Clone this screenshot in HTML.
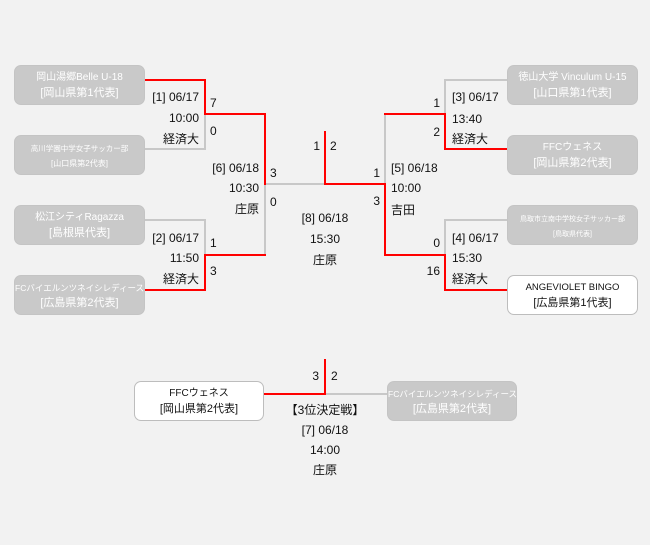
<!DOCTYPE html>
<html><head><meta charset="utf-8">
<style>
html,body{margin:0;padding:0;}
body{width:650px;height:545px;background:#f2f2f2;position:relative;overflow:hidden;font-family:"Liberation Sans","Noto Sans CJK JP",sans-serif;color:#111;}
svg{position:absolute;left:0;top:0;}
.t{position:absolute;font-size:12px;line-height:14px;white-space:nowrap;}
.r{text-align:right;}
.c{text-align:center;}
.box{position:absolute;width:131px;height:40px;border-radius:7px;box-sizing:border-box;}
.g{background:#c9c9c9;border:1px solid #c4c4c4;color:#fff;}
.w{background:#fff;border:1px solid #bdbdbd;color:#111;}
.bl{position:absolute;left:0;width:100%;text-align:center;white-space:nowrap;}
</style></head><body>
<svg width="650" height="545" viewBox="0 0 650 545">
<g fill="none" stroke-width="2" stroke-linecap="square">
<!-- gray lines -->
<g stroke="#c8c8c8">
<path d="M145,149 H205 V114"/>
<path d="M145,220 H205 V255"/>
<path d="M265,184 V255"/>
<path d="M265,184 H325"/>
<path d="M507,80 H445 V114"/>
<path d="M507,220 H445 V255"/>
<path d="M385,114 V184"/>
<path d="M325,394 H387"/>
</g>
<g stroke="#ff0000">
<path d="M145,80 H205 V114 H265 V184"/>
<path d="M145,290 H205 V255 H265"/>
<path d="M325,132 V184 H385 V255 H445 V290 H507"/>
<path d="M507,149 H445 V114 H385"/>
<path d="M264,394 H325 V360"/>
</g>
</g>
</svg>

<!-- Left boxes -->
<div class="box g" style="left:14px;top:65px;">
<div class="bl" style="top:5px;font-size:10px;line-height:14px;">岡山湯郷Belle U-18</div>
<div class="bl" style="top:20px;font-size:11px;line-height:14px;">[岡山県第1代表]</div>
</div>
<div class="box g" style="left:14px;top:135px;">
<div class="bl" style="top:8px;font-size:7.5px;line-height:10px;">高川学園中学女子サッカー部</div>
<div class="bl" style="top:23px;font-size:8px;line-height:10px;">[山口県第2代表]</div>
</div>
<div class="box g" style="left:14px;top:205px;">
<div class="bl" style="top:5px;font-size:10px;line-height:14px;">松江シティRagazza</div>
<div class="bl" style="top:20px;font-size:11px;line-height:14px;">[島根県代表]</div>
</div>
<div class="box g" style="left:14px;top:275px;">
<div class="bl" style="top:6px;font-size:8.5px;line-height:12px;">FCバイエルンツネイシレディース</div>
<div class="bl" style="top:20px;font-size:11px;line-height:14px;">[広島県第2代表]</div>
</div>

<!-- Right boxes -->
<div class="box g" style="left:507px;top:65px;">
<div class="bl" style="top:5px;font-size:10px;line-height:14px;">徳山大学 Vinculum U-15</div>
<div class="bl" style="top:20px;font-size:11px;line-height:14px;">[山口県第1代表]</div>
</div>
<div class="box g" style="left:507px;top:135px;">
<div class="bl" style="top:5px;font-size:10px;line-height:14px;">FFCウェネス</div>
<div class="bl" style="top:20px;font-size:11px;line-height:14px;">[岡山県第2代表]</div>
</div>
<div class="box g" style="left:507px;top:205px;">
<div class="bl" style="top:9px;font-size:7px;line-height:9px;">鳥取市立南中学校女子サッカー部</div>
<div class="bl" style="top:24px;font-size:7px;line-height:9px;">[鳥取県代表]</div>
</div>
<div class="box w" style="left:507px;top:275px;">
<div class="bl" style="top:5px;font-size:9.5px;line-height:14px;">ANGEVIOLET BINGO</div>
<div class="bl" style="top:20px;font-size:11px;line-height:14px;">[広島県第1代表]</div>
</div>

<!-- Third place boxes -->
<div class="box w" style="left:134px;top:381px;width:130px;">
<div class="bl" style="top:5px;font-size:10px;line-height:14px;">FFCウェネス</div>
<div class="bl" style="top:20px;font-size:11px;line-height:14px;">[岡山県第2代表]</div>
</div>
<div class="box g" style="left:387px;top:381px;width:130px;">
<div class="bl" style="top:6px;font-size:8.5px;line-height:12px;">FCバイエルンツネイシレディース</div>
<div class="bl" style="top:20px;font-size:11px;line-height:14px;">[広島県第2代表]</div>
</div>

<!-- Match 1 -->
<div class="t r" style="right:451px;top:90px;">[1] 06/17</div>
<div class="t r" style="right:451px;top:111px;">10:00</div>
<div class="t r" style="right:451px;top:132px;">経済大</div>
<div class="t" style="left:210px;top:96px;">7</div>
<div class="t" style="left:210px;top:124px;">0</div>

<!-- Match 2 -->
<div class="t r" style="right:451px;top:231px;">[2] 06/17</div>
<div class="t r" style="right:451px;top:251px;">11:50</div>
<div class="t r" style="right:451px;top:272px;">経済大</div>
<div class="t" style="left:210px;top:236px;">1</div>
<div class="t" style="left:210px;top:264px;">3</div>

<!-- Match 6 -->
<div class="t r" style="right:391px;top:161px;">[6] 06/18</div>
<div class="t r" style="right:391px;top:181px;">10:30</div>
<div class="t r" style="right:391px;top:202px;">庄原</div>
<div class="t" style="left:270px;top:166px;">3</div>
<div class="t" style="left:270px;top:195px;">0</div>

<!-- Final -->
<div class="t r" style="right:330px;top:139px;">1</div>
<div class="t" style="left:330px;top:139px;">2</div>
<div class="t c" style="left:265px;width:120px;top:211px;">[8] 06/18</div>
<div class="t c" style="left:265px;width:120px;top:232px;">15:30</div>
<div class="t c" style="left:265px;width:120px;top:253px;">庄原</div>

<!-- Match 5 -->
<div class="t r" style="right:270px;top:166px;">1</div>
<div class="t r" style="right:270px;top:194px;">3</div>
<div class="t" style="left:391px;top:161px;">[5] 06/18</div>
<div class="t" style="left:391px;top:181px;">10:00</div>
<div class="t" style="left:391px;top:203px;">吉田</div>

<!-- Match 3 -->
<div class="t r" style="right:210px;top:96px;">1</div>
<div class="t r" style="right:210px;top:125px;">2</div>
<div class="t" style="left:452px;top:90px;">[3] 06/17</div>
<div class="t" style="left:452px;top:112px;">13:40</div>
<div class="t" style="left:452px;top:132px;">経済大</div>

<!-- Match 4 -->
<div class="t r" style="right:210px;top:236px;">0</div>
<div class="t r" style="right:210px;top:264px;">16</div>
<div class="t" style="left:452px;top:231px;">[4] 06/17</div>
<div class="t" style="left:452px;top:251px;">15:30</div>
<div class="t" style="left:452px;top:272px;">経済大</div>

<!-- Third place -->
<div class="t r" style="right:331px;top:369px;">3</div>
<div class="t" style="left:331px;top:369px;">2</div>
<div class="t c" style="left:255px;width:140px;top:403px;">【3位決定戦】</div>
<div class="t c" style="left:255px;width:140px;top:423px;">[7] 06/18</div>
<div class="t c" style="left:255px;width:140px;top:443px;">14:00</div>
<div class="t c" style="left:255px;width:140px;top:463px;">庄原</div>
</body></html>
